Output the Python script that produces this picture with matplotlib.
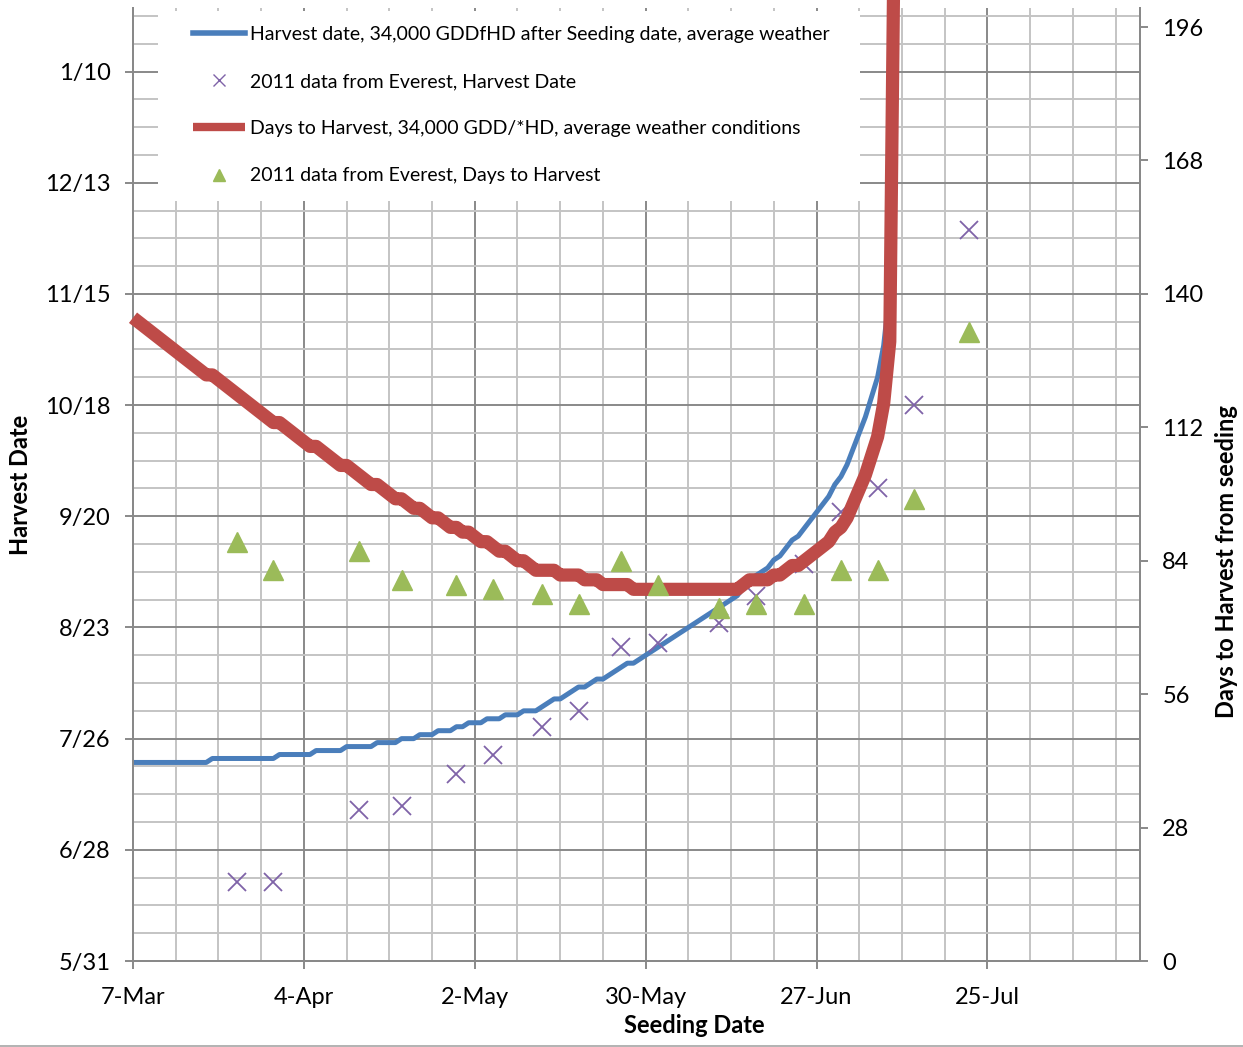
import matplotlib
matplotlib.use('Agg')
import matplotlib.pyplot as plt
import matplotlib.dates as mdates
import matplotlib.ticker as mticker
from matplotlib.lines import Line2D
from matplotlib.patches import Rectangle
import pandas as pd

plt.rcParams['font.family'] = ['Lato', 'DejaVu Sans']

# model run: one seeding date per day starting 7-Mar-2011
model_start = '2011-03-07'
days_to_harvest = [
    135, 134, 133, 132, 131, 130, 129, 128, 127, 126, 125, 124, 123,
    123, 122, 121, 120, 119, 118, 117, 116, 115, 114, 113,
    113, 112, 111, 110, 109, 108,
    108, 107, 106, 105, 104,
    104, 103, 102, 101, 100,
    100, 99, 98, 97,
    97, 96, 95,
    95, 94, 93,
    93, 92, 91,
    91, 90, 90, 89, 88,
    88, 87, 86,
    86, 85, 84,
    84, 83, 82, 82, 82, 82,
    81, 81, 81, 81, 80, 80, 80,
    79, 79, 79, 79, 79,
    78, 78, 78, 78, 78, 78, 78, 78, 78, 78, 78, 78, 78, 78, 78, 78, 78, 78,
    79, 80, 80, 80, 80, 81, 81, 82, 83, 83,
    84, 85, 86, 87, 88, 90, 91, 93, 96, 99,
    102, 106, 110, 117, 130, 250,
]

# 2011 field data from Everest
sample_seeding = ['2011-03-24', '2011-03-30', '2011-04-13', '2011-04-20', '2011-04-29',
                  '2011-05-05', '2011-05-13', '2011-05-19', '2011-05-26', '2011-06-01',
                  '2011-06-11', '2011-06-17', '2011-06-25', '2011-07-01', '2011-07-07',
                  '2011-07-13', '2011-07-22']
sample_harvest = ['2011-06-20', '2011-06-20', '2011-07-08', '2011-07-09', '2011-07-17',
                  '2011-07-22', '2011-07-29', '2011-08-02', '2011-08-18', '2011-08-19',
                  '2011-08-24', '2011-08-31', '2011-09-08', '2011-09-21', '2011-09-27',
                  '2011-10-18', '2011-12-01']
sample_days = [88, 82, 86, 80, 79, 78, 77, 75, 84, 79, 74, 75, 75, 82, 82, 97, 132]

seeding = pd.date_range(model_start, periods=len(days_to_harvest), freq='D')
harvest = seeding + pd.to_timedelta(days_to_harvest, unit='D')
sample_seeding = pd.to_datetime(sample_seeding)
sample_harvest = pd.to_datetime(sample_harvest)

blue = '#4a7ebb'
red = '#be4b48'
purple = '#7f63a8'
green = '#9bbb59'
grid_minor = '#c4c4c4'
grid_major = '#898989'

fig = plt.figure(figsize=(12.43, 10.47), dpi=100)
ax = fig.add_axes([133 / 1243, 1 - 961 / 1047, 1007 / 1243, 953 / 1047])
ax2 = ax.twinx()

# axes ranges
ax.set_xlim(pd.Timestamp('2011-03-07'), pd.Timestamp('2011-08-19'))
ax.set_ylim(pd.Timestamp('2011-05-31'), pd.Timestamp('2012-01-26'))
ax2.set_ylim(0, 200)

x_major = pd.date_range('2011-03-07', '2011-08-19', freq='28D')
x_minor = pd.date_range('2011-03-07', '2011-08-19', freq='7D')
y_major = pd.date_range('2011-05-31', '2012-01-26', freq='28D')
y_minor = pd.date_range('2011-05-31', '2012-01-26', freq='7D')
ax.xaxis.set_major_locator(mticker.FixedLocator(mdates.date2num(x_major)))
ax.xaxis.set_minor_locator(mticker.FixedLocator(mdates.date2num(x_minor)))
ax.yaxis.set_major_locator(mticker.FixedLocator(mdates.date2num(y_major)))
ax.yaxis.set_minor_locator(mticker.FixedLocator(mdates.date2num(y_minor)))
ax2.yaxis.set_major_locator(mticker.MultipleLocator(28))

def fmt_x(v, pos):
    d = mdates.num2date(v)
    return f"{d.day}-{d.strftime('%b')}"

def fmt_y(v, pos):
    d = mdates.num2date(v)
    return f"{d.month}/{d.day}"

ax.xaxis.set_major_formatter(mticker.FuncFormatter(fmt_x))
ax.yaxis.set_major_formatter(mticker.FuncFormatter(fmt_y))

ax.grid(which='minor', color=grid_minor, lw=1.4)
ax.grid(which='major', color=grid_major, lw=1.4)

for a in (ax, ax2):
    a.spines['top'].set_visible(False)
    for s in ('left', 'right', 'bottom'):
        a.spines[s].set_color(grid_major)
        a.spines[s].set_linewidth(1.4)
    a.tick_params(which='major', length=6, width=1.4, color=grid_major,
                  labelsize=17, pad=10)
    a.tick_params(which='minor', length=0)
ax.tick_params(axis='x', pad=13)

# white box behind the legend
ax.add_patch(Rectangle((25 / 1007, (961 - 201) / 953), (860 - 158) / 1007, (201 - 11) / 953,
                       transform=ax.transAxes, facecolor='white', edgecolor='none', zorder=2))

l1, = ax.plot(seeding, harvest, color=blue, lw=3.6, zorder=3,
              label='Harvest date, 34,000 GDDfHD after Seeding date, average weather')
l2, = ax.plot(sample_seeding, sample_harvest, ls='none', marker='x', ms=13, mew=1.3,
              color=purple, zorder=4, label='2011 data from Everest, Harvest Date')
l3, = ax2.plot(seeding, days_to_harvest, color=red, lw=9.5, solid_capstyle='butt',
               clip_on=False, zorder=3,
               label='Days to Harvest, 34,000 GDD/*HD, average weather conditions')
l4, = ax2.plot(sample_seeding, sample_days, ls='none', marker='^', ms=14,
               color=green, zorder=4, label='2011 data from Everest, Days to Harvest')

leg = ax2.legend(handles=[l1, l2, l3, l4], loc='upper left',
                 bbox_to_anchor=(60 / 1007, (961 - 26) / 953), borderaxespad=0,
                 borderpad=0, frameon=False, fontsize=14, handlelength=2.67,
                 handletextpad=0.27, labelspacing=1.55)
hl = leg.legend_handles
hl[0].set_linewidth(4)
hl[1].set_markersize(8)
hl[1].set_markeredgewidth(1)
hl[2].set_linewidth(6)
hl[3].set_markersize(9)

ax.set_xlabel('Seeding Date', fontsize=17, fontweight='bold')
ax.set_ylabel('Harvest Date', fontsize=17, fontweight='bold')
ax2.set_ylabel('Days to Harvest from seeding', fontsize=17, fontweight='bold')
ax.xaxis.set_label_coords(0.557, -0.056)
ax.yaxis.set_label_coords(-0.1, 0.5)
ax2.yaxis.set_label_coords(1.0745, 0.4187)

# bottom edge of the chart area
fig.add_artist(Line2D([0, 1], [0.0014, 0.0014], color='#a6a6a6', lw=1.2,
                      transform=fig.transFigure))

fig.savefig('out.png', dpi=100, facecolor='white')
